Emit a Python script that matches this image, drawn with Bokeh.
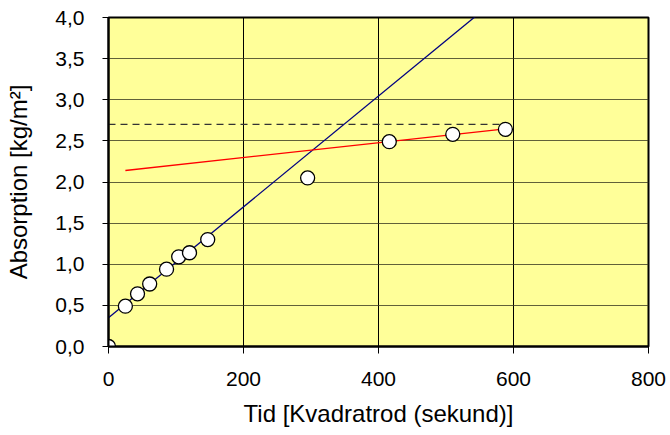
from bokeh.plotting import figure
from bokeh.embed import file_html
from bokeh.resources import INLINE
from bokeh.models import FixedTicker, CustomJSTickFormatter, Range1d

# Data
x_pts = [0, 25, 43, 61, 86, 104, 120, 147, 295, 416, 510, 588]
y_pts = [0.0, 0.49, 0.64, 0.76, 0.94, 1.09, 1.14, 1.30, 2.05, 2.49, 2.58, 2.64]

blue_x = [0, 555]
blue_y = [0.35, 4.09]

red_x = [25, 588]
red_y = [2.14, 2.645]

dash_x = [0, 588]
dash_y = [2.70, 2.70]

x_ticks = [0, 200, 400, 600, 800]
y_ticks = [0, 0.5, 1.0, 1.5, 2.0, 2.5, 3.0, 3.5, 4.0]

FONT = "Liberation Sans"

p = figure(width=670, height=435, output_backend="svg", toolbar_location=None,
           x_range=Range1d(0, 800), y_range=Range1d(0, 4.0),
           min_border_left=108, min_border_right=22, min_border_top=17, min_border_bottom=89)

p.background_fill_color = "#FFFF99"
p.border_fill_color = "white"
p.outline_line_color = "black"
p.outline_line_width = 2

p.xaxis.ticker = FixedTicker(ticks=x_ticks)
p.yaxis.ticker = FixedTicker(ticks=y_ticks)
p.yaxis.formatter = CustomJSTickFormatter(code="return tick.toFixed(1).replace('.', ',');")

for ax in (p.xaxis[0], p.yaxis[0]):
    ax.axis_line_color = "black"
    ax.axis_line_width = 2
    ax.major_tick_line_color = "black"
    ax.major_tick_line_width = 1
    ax.minor_tick_line_color = None
    ax.major_tick_in = 0
    ax.major_label_text_font = FONT
    ax.major_label_text_font_size = "21px"
    ax.major_label_text_color = "black"
    ax.axis_label_text_font = FONT
    ax.axis_label_text_font_size = "24px"
    ax.axis_label_text_font_style = "normal"
    ax.axis_label_text_color = "black"

p.xaxis.major_tick_out = 7
p.xaxis.major_label_standoff = 18
p.xaxis.axis_label_standoff = 11
p.yaxis.major_tick_out = 6
p.yaxis.major_label_standoff = 18
p.yaxis.axis_label_standoff = 20

p.xaxis.axis_label = "Tid [Kvadratrod (sekund)]"
p.yaxis.axis_label = "Absorption [kg/m²]"

p.xgrid.grid_line_color = "black"
p.xgrid.grid_line_width = 1
p.ygrid.grid_line_color = "#3a3a20"
p.ygrid.grid_line_alpha = 0.8
p.ygrid.grid_line_width = 1

p.line(dash_x, dash_y, line_color="#333333", line_width=1.2, line_dash="7 5")
p.line(blue_x, blue_y, line_color="#000080", line_width=1.3)
p.line(red_x, red_y, line_color="#FF0000", line_width=1.3)
p.scatter(x_pts, y_pts, size=14, fill_color="white", line_color="black", line_width=1.3)

open("out.html", "w").write(file_html(p, INLINE))
